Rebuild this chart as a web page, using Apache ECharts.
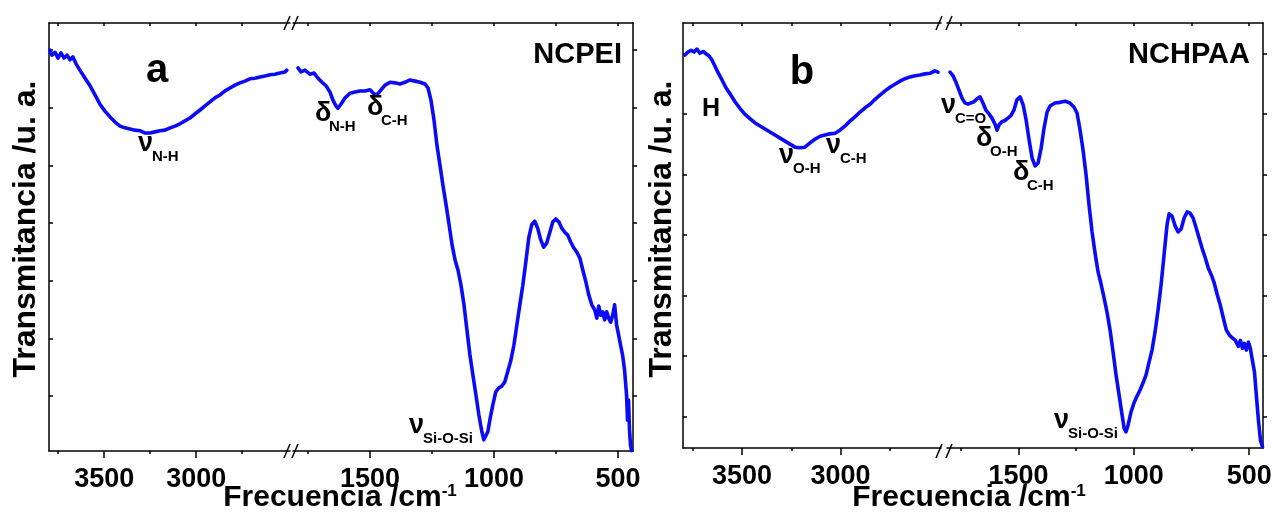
<!DOCTYPE html>
<html><head><meta charset="utf-8">
<script src="https://cdn.jsdelivr.net/npm/echarts@6/dist/echarts.min.js"></script>
<style>html,body{margin:0;padding:0;background:#fff}#c{width:1273px;height:518px}</style>
</head><body><div id="c"></div>
<script>
// ---------- DATA ----------
const ncpeiHighWn = [3795,3784,3767,3751,3735,3718,3702,3686,3670,3653,3632,3604,3577,3550,3523,3496,3468,3441,3414,3387,3360,3333,3305,3278,3251,3224,3197,3170,3142,3115,3088,3061,3034,3007,2979,2952,2925,2898,2871,2843,2816,2789,2762,2735,2708,2680,2653,2626,2599,2572,2545,2517,2507];
const ncpeiHighT = [6.00,5.91,5.96,5.86,5.95,5.86,5.91,5.83,5.88,5.76,5.65,5.51,5.38,5.22,5.06,4.94,4.84,4.75,4.68,4.65,4.63,4.61,4.60,4.56,4.56,4.58,4.60,4.61,4.65,4.68,4.72,4.77,4.82,4.89,4.96,5.03,5.10,5.17,5.22,5.29,5.34,5.39,5.43,5.46,5.50,5.51,5.53,5.55,5.57,5.58,5.60,5.62,5.65];
const ncpeiLowWn = [1790,1778,1762,1742,1725,1709,1693,1677,1661,1649,1637,1629,1617,1600,1580,1560,1540,1520,1500,1484,1472,1455,1439,1419,1399,1379,1359,1339,1318,1298,1278,1266,1254,1242,1230,1218,1206,1193,1181,1169,1157,1145,1133,1121,1109,1097,1085,1073,1061,1049,1041,1033,1025,1017,1005,993,981,969,957,945,932,920,908,896,884,872,860,848,836,824,812,800,788,775,763,751,739,727,715,703,691,679,667,654,642,630,618,606,594,586,578,570,562,554,546,538,530,522,514,506,498,490,482,474,466,462,458,454,450,446];
const ncpeiLowT = [5.69,5.62,5.65,5.58,5.60,5.51,5.44,5.38,5.27,5.13,5.03,4.99,5.06,5.17,5.25,5.27,5.29,5.29,5.31,5.24,5.22,5.31,5.39,5.44,5.43,5.41,5.44,5.48,5.46,5.44,5.41,5.34,5.13,4.79,4.35,4.01,3.66,3.31,2.97,2.62,2.36,2.18,1.92,1.58,1.14,0.71,0.36,0.02,-0.33,-0.62,-0.76,-0.78,-0.62,-0.42,-0.16,0.07,0.14,0.17,0.24,0.42,0.62,0.88,1.23,1.58,1.92,2.32,2.74,2.97,3.03,2.91,2.71,2.58,2.65,2.84,3.02,3.07,3.02,2.91,2.84,2.79,2.67,2.57,2.50,2.39,2.18,1.98,1.75,1.58,1.49,1.35,1.56,1.40,1.46,1.32,1.46,1.35,1.28,1.40,1.58,1.23,1.06,0.88,0.71,0.45,0.02,-0.42,-0.07,-0.59,-0.85,-0.95];

const nchpaaHighWn = [3790,3775,3759,3744,3729,3714,3698,3683,3668,3653,3638,3622,3602,3582,3561,3536,3511,3485,3460,3434,3409,3384,3358,3333,3307,3282,3257,3231,3206,3181,3155,3130,3104,3079,3054,3028,3003,2977,2952,2927,2901,2876,2850,2825,2800,2774,2749,2724,2698,2673,2647,2622,2597,2571,2546,2521,2505];
const nchpaaHighT = [5.97,6.02,6.05,6.02,6.07,6.00,6.03,5.99,5.96,5.89,5.79,5.68,5.56,5.43,5.33,5.20,5.09,4.99,4.92,4.85,4.80,4.75,4.70,4.65,4.60,4.55,4.50,4.45,4.44,4.45,4.52,4.58,4.63,4.65,4.67,4.68,4.73,4.80,4.88,4.95,5.03,5.10,5.16,5.24,5.31,5.38,5.44,5.49,5.54,5.58,5.61,5.63,5.64,5.66,5.67,5.71,5.69];
const nchpaaLowWn = [1797,1784,1771,1758,1745,1732,1719,1706,1693,1680,1667,1654,1641,1628,1615,1602,1593,1584,1572,1559,1546,1533,1520,1507,1493,1480,1467,1454,1441,1428,1415,1402,1389,1376,1363,1342,1320,1298,1277,1259,1246,1233,1220,1207,1194,1181,1168,1155,1142,1129,1116,1103,1090,1077,1064,1051,1042,1034,1025,1012,999,986,973,960,947,934,921,908,895,882,869,856,847,834,821,808,795,782,769,756,743,730,717,704,690,677,664,651,638,625,612,599,586,573,560,547,538,529,521,512,503,495,486,477,469,460,451,442];
const nchpaaLowT = [5.69,5.63,5.52,5.39,5.26,5.18,5.16,5.18,5.20,5.25,5.28,5.18,5.06,5.00,4.93,4.83,4.73,4.82,4.87,4.89,4.93,4.97,5.06,5.23,5.28,5.15,4.90,4.57,4.27,4.14,4.19,4.43,4.77,5.03,5.13,5.18,5.19,5.21,5.18,5.11,5.01,4.73,4.40,3.99,3.49,3.05,2.70,2.39,2.19,1.96,1.72,1.43,1.07,0.69,0.36,0.03,-0.19,-0.25,-0.14,0.08,0.23,0.34,0.44,0.56,0.69,0.90,1.10,1.40,1.76,2.17,2.67,3.17,3.35,3.31,3.15,3.05,3.10,3.28,3.38,3.36,3.28,3.12,2.95,2.78,2.62,2.45,2.34,2.20,2.01,1.84,1.63,1.43,1.35,1.30,1.26,1.16,1.26,1.13,1.21,1.10,1.23,1.13,0.93,0.74,0.36,-0.05,-0.39,-0.50];

const highMajorTicks = [3500, 3000];
const highMinorTicks = [3750, 3250, 2750];
const lowMajorTicks = [1500, 1000, 500];
const lowMinorTicks = [1750, 1250, 750];
const yTicks = [0, 1, 2, 3, 4, 5, 6];
const xTitle = 'Frecuencia /cm';
const xTitleSup = '-1';
const yTitle = 'Transmitancia /u. a.';

// ---------- LAYOUT ----------
const FONT = '"Liberation Sans", Arial, Helvetica, sans-serif';
const BLUE = '#0b0bf5';
const panels = [
  { hi: [ncpeiHighWn, ncpeiHighT], lo: [ncpeiLowWn, ncpeiLowT], yMin: -0.954, yMax: 6.468,
    gA: {left: 49, top: 23, width: 241, height: 428}, gB: {left: 293, top: 23, width: 340, height: 428} },
  { hi: [nchpaaHighWn, nchpaaHighT], lo: [nchpaaLowWn, nchpaaLowT], yMin: -0.517, yMax: 6.50,
    gA: {left: 683, top: 23, width: 258, height: 425}, gB: {left: 947, top: 23, width: 316, height: 425} }
];
const hiRange = [2490, 3800];
const loRange = [440, 1810];

const zip = (a, b) => a.map((v, i) => [v, b[i]]);
const grids = [], xAxes = [], yAxes = [], series = [];
const lineSt = {color: '#000', width: 1.5};

panels.forEach((p, pi) => {
  [['A', p.gA, hiRange, highMajorTicks, highMinorTicks, p.hi],
   ['B', p.gB, loRange, lowMajorTicks, lowMinorTicks, p.lo]].forEach(([seg, g, rng, maj, mnr, d]) => {
    const gi = grids.length;
    grids.push(Object.assign({containLabel: false, outerBoundsMode: 'none'}, g));
    const base = {type: 'value', gridIndex: gi, min: rng[0], max: rng[1], inverse: true,
      splitLine: {show: false}, minorTick: {show: false}};
    const mainIdx = xAxes.length;
    xAxes.push(Object.assign({}, base, {position: 'bottom',
      axisLine: {show: true, onZero: false, lineStyle: lineSt},
      axisTick: {show: true, inside: false, length: 7, lineStyle: lineSt, customValues: maj},
      axisLabel: {show: true, customValues: maj, margin: 15, color: '#000', fontFamily: FONT,
        fontWeight: 'bold', fontSize: 27, formatter: v => String(v)}}));
    xAxes.push(Object.assign({}, base, {position: 'bottom',
      axisLine: {show: false, onZero: false},
      axisTick: {show: true, inside: false, length: 3, lineStyle: lineSt, customValues: mnr},
      axisLabel: {show: false}}));
    xAxes.push(Object.assign({}, base, {position: 'top',
      axisLine: {show: true, onZero: false, lineStyle: lineSt},
      axisTick: {show: true, inside: true, length: 3, lineStyle: lineSt, customValues: maj.concat(mnr)},
      axisLabel: {show: false}}));
    const yIdx = yAxes.length;
    yAxes.push({type: 'value', gridIndex: gi, min: p.yMin, max: p.yMax,
      position: seg === 'A' ? 'left' : 'right',
      axisLine: {show: true, onZero: false, lineStyle: lineSt},
      axisTick: {show: true, inside: seg === 'A', length: 4, lineStyle: lineSt, customValues: yTicks},
      axisLabel: {show: false}, splitLine: {show: false}});
    series.push({type: 'line', xAxisIndex: mainIdx, yAxisIndex: yIdx, data: zip(d[0], d[1]),
      showSymbol: false, symbol: 'none', smooth: false, animation: false,
      lineStyle: {color: BLUE, width: 3.6, join: 'round', cap: 'round'}});
  });
});

// ---------- TEXT / DECORATION ----------
const gfx = [];
function txt(x, y, text, size, weight, align, extra) {
  gfx.push(Object.assign({type: 'text', x: x, y: y, z: 100,
    style: {text: text, fontFamily: FONT, fontSize: size, fontWeight: weight, fill: '#000',
      align: align || 'left', verticalAlign: 'middle', textAlign: align || 'left', textVerticalAlign: 'middle'}}, extra || {}));
}
// Greek symbol + subscript: x = left of symbol, b = baseline of symbol
function band(x, b, sym, sub) {
  const s = 27;
  txt(x - 1, b - 0.35 * s, sym, s, 'bold', 'left');
  txt(x + 13, b + 9 - 0.35 * 15, sub, 15, 'bold', 'left');
}
// panel a
txt(157, 71, 'a', 40, 'bold', 'center');
txt(622, 55, 'NCPEI', 29, 'bold', 'right');
band(139, 153, 'ν', 'N-H');
band(316, 123, 'δ', 'N-H');
band(368, 117, 'δ', 'C-H');
band(410, 435, 'ν', 'Si-O-Si');
// panel b
txt(802, 73, 'b', 40, 'bold', 'center');
txt(1250, 55, 'NCHPAA', 29, 'bold', 'right');
txt(702, 109, 'H', 25, 'bold', 'left');
band(780, 165, 'ν', 'O-H');
band(827, 155, 'ν', 'C-H');
band(942, 115, 'ν', 'C=O');
band(977, 148, 'δ', 'O-H');
band(1014, 182, 'δ', 'C-H');
band(1055, 430, 'ν', 'Si-O-Si');

// axis titles
[[340, 26], [969, 662]].forEach(([cx, yx]) => {
  gfx.push({type: 'text', x: cx, y: 498, z: 100,
    style: {text: '{t|' + xTitle + '}{s|' + xTitleSup + '}', align: 'center', verticalAlign: 'middle',
      textAlign: 'center', textVerticalAlign: 'middle',
      rich: {t: {fontFamily: FONT, fontSize: 30, fontWeight: 'bold', fill: '#000', color: '#000'},
             s: {fontFamily: FONT, fontSize: 17, fontWeight: 'bold', fill: '#000', color: '#000', verticalAlign: 'top'}}}});
  txt(yx, 229, yTitle, 32, 'bold', 'center', {rotation: Math.PI / 2});
});

// axis break marks
function slash(x, y) {
  gfx.push({type: 'line', z: 100, shape: {x1: x, y1: y + 7, x2: x + 6, y2: y - 7},
    style: {stroke: '#000', lineWidth: 1.5}});
}
[[284, 292], [936, 946]].forEach(([a, b]) => {
  slash(a, 23); slash(b, 23);
  slash(a, 451); slash(b, 451);
});

const chart = echarts.init(document.getElementById('c'), null, {renderer: 'canvas'});
chart.setOption({
  backgroundColor: '#fff',
  animation: false,
  grid: grids, xAxis: xAxes, yAxis: yAxes, series: series, graphic: gfx
});
</script></body></html>
